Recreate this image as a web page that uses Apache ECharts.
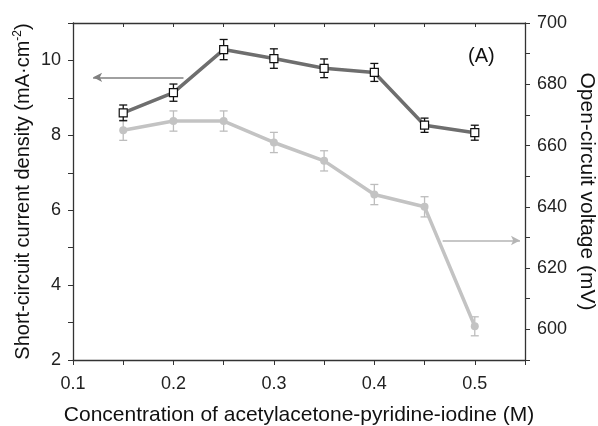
<!DOCTYPE html>
<html>
<head>
<meta charset="utf-8">
<script src="https://cdn.jsdelivr.net/npm/echarts@6/dist/echarts.min.js"></script>
<style>
  html, body { margin: 0; padding: 0; background: #fff; }
  #main { width: 598px; height: 426px; }
</style>
</head>
<body>
<div id="main"></div>
<script>
// 濃度 (M)
const concentration = [0.15, 0.2, 0.25, 0.3, 0.35, 0.4, 0.45, 0.5];
// 短絡電流密度 (mA·cm-2) と誤差
const jscValues = [8.60, 9.14, 10.29, 10.05, 9.79, 9.68, 8.27, 8.07];
const jscErrors = [0.21, 0.23, 0.27, 0.26, 0.25, 0.24, 0.19, 0.20];
// 開放電圧 (mV) と誤差
const vocValues = [665, 668, 668, 661, 655, 644, 640, 601];
const vocErrors = [3.3, 3.3, 3.3, 3.3, 3.3, 3.3, 3.3, 3.1];
// 矢印 (始点, 終点) [x, y]
const leftArrow = [[0.21, 9.55], [0.12, 9.55]];
const rightArrow = [[0.468, 629], [0.545, 629]];

const font = 'Liberation Sans, Arial, sans-serif';
const chart = echarts.init(document.getElementById('main'));

const pairs = (ys) => concentration.map((x, i) => [x, ys[i]]);
const errPairs = (ys, es) => concentration.map((x, i) => [x, ys[i] - es[i], ys[i] + es[i]]);

// 誤差棒
function errorBar(color) {
  return function (params, api) {
    const x = api.value(0);
    const lo = api.coord([x, api.value(1)]);
    const hi = api.coord([x, api.value(2)]);
    const hw = 4;
    const st = { stroke: color, lineWidth: 1.3 };
    return {
      type: 'group',
      children: [
        { type: 'line', shape: { x1: lo[0], y1: lo[1], x2: hi[0], y2: hi[1] }, style: st },
        { type: 'line', shape: { x1: lo[0] - hw, y1: lo[1], x2: lo[0] + hw, y2: lo[1] }, style: st },
        { type: 'line', shape: { x1: hi[0] - hw, y1: hi[1], x2: hi[0] + hw, y2: hi[1] }, style: st }
      ]
    };
  };
}

const axisColor = '#333';

const option = {
  animation: false,
  textStyle: { fontFamily: font },
  grid: { left: 73, right: 73, top: 23, bottom: 66, outerBoundsMode: 'none', containLabel: false },
  xAxis: [
    {
      type: 'value', min: 0.1, max: 0.55, interval: 0.05,
      name: 'Concentration of acetylacetone-pyridine-iodine (M)',
      nameLocation: 'middle', nameGap: 45, nameMoveOverlap: false,
      nameTextStyle: { fontSize: 21, color: '#111', fontFamily: font },
      axisLine: { lineStyle: { color: axisColor, width: 1.3 } },
      axisTick: { show: true, length: 5, lineStyle: { color: axisColor } },
      axisLabel: {
        fontSize: 18, color: '#222', margin: 15,
        formatter: (v) => (Math.round(v * 100) % 10 === 0 && v < 0.54) ? v.toFixed(1) : ''
      },
      splitLine: { show: false }
    },
    {
      type: 'value', min: 0.1, max: 0.55, interval: 0.05, position: 'top',
      axisLine: { lineStyle: { color: axisColor, width: 1.3 } },
      axisTick: { show: true, inside: true, length: 4, lineStyle: { color: axisColor } },
      axisLabel: { show: false },
      splitLine: { show: false }
    }
  ],
  yAxis: [
    {
      type: 'value', min: 2, max: 11, interval: 1,
      name: 'Short-circuit current density (mA·cm{sup|-2})',
      nameLocation: 'middle', nameGap: 39, nameRotate: 90, nameMoveOverlap: false,
      nameTextStyle: {
        fontSize: 20, color: '#111', fontFamily: font,
        rich: { sup: { fontSize: 12, verticalAlign: 'top', padding: [0, 0, 10, 0], color: '#111' } }
      },
      axisLine: { show: true, lineStyle: { color: axisColor, width: 1.3 } },
      axisTick: { show: true, length: 5, lineStyle: { color: axisColor } },
      axisLabel: {
        fontSize: 18, color: '#222', margin: 12,
        formatter: (v) => (v % 2 === 0) ? String(v) : ''
      },
      splitLine: { show: false }
    },
    {
      type: 'value', min: 590, max: 700, interval: 10, position: 'right',
      name: 'Open-circuit voltage (mV)',
      nameLocation: 'middle', nameGap: 51, nameRotate: -90, nameMoveOverlap: false,
      nameTextStyle: { fontSize: 21, color: '#111', fontFamily: font },
      axisLine: { show: true, lineStyle: { color: axisColor, width: 1.3 } },
      axisTick: { show: true, length: 5, lineStyle: { color: axisColor } },
      axisLabel: {
        fontSize: 18, color: '#222', margin: 12,
        formatter: (v) => (v % 20 === 0) ? String(v) : ''
      },
      splitLine: { show: false }
    }
  ],
  graphic: [
    {
      type: 'text', left: 468, top: 46,
      style: { text: '(A)', font: '20px ' + font, fill: '#111' }
    }
  ],
  series: [
    {
      name: 'Voc', type: 'line', yAxisIndex: 1,
      data: pairs(vocValues),
      symbol: 'circle', symbolSize: 8,
      itemStyle: { color: '#c3c3c3' },
      lineStyle: { color: '#c3c3c3', width: 3.5 },
      markLine: {
        silent: true, symbol: ['none', 'arrow'], symbolSize: [7, 9],
        label: { show: false },
        lineStyle: { color: '#b5b5b5', width: 1.5, type: 'solid' },
        data: [[{ coord: rightArrow[0] }, { coord: rightArrow[1] }]]
      },
      z: 2
    },
    {
      name: 'Voc err', type: 'custom', yAxisIndex: 1,
      data: errPairs(vocValues, vocErrors),
      renderItem: errorBar('#bdbdbd'), z: 1
    },
    {
      name: 'Jsc', type: 'line', yAxisIndex: 0,
      data: pairs(jscValues),
      symbol: 'rect', symbolSize: 8,
      itemStyle: { color: '#fff', borderColor: '#111', borderWidth: 1.2 },
      lineStyle: { color: '#6e6e6e', width: 3.5 },
      markLine: {
        silent: true, symbol: ['none', 'arrow'], symbolSize: [7, 9],
        label: { show: false },
        lineStyle: { color: '#808080', width: 1.5, type: 'solid' },
        data: [[{ coord: leftArrow[0] }, { coord: leftArrow[1] }]]
      },
      z: 4
    },
    {
      name: 'Jsc err', type: 'custom', yAxisIndex: 0,
      data: errPairs(jscValues, jscErrors),
      renderItem: errorBar('#111'), z: 3
    }
  ]
};

chart.setOption(option);
</script>
</body>
</html>
